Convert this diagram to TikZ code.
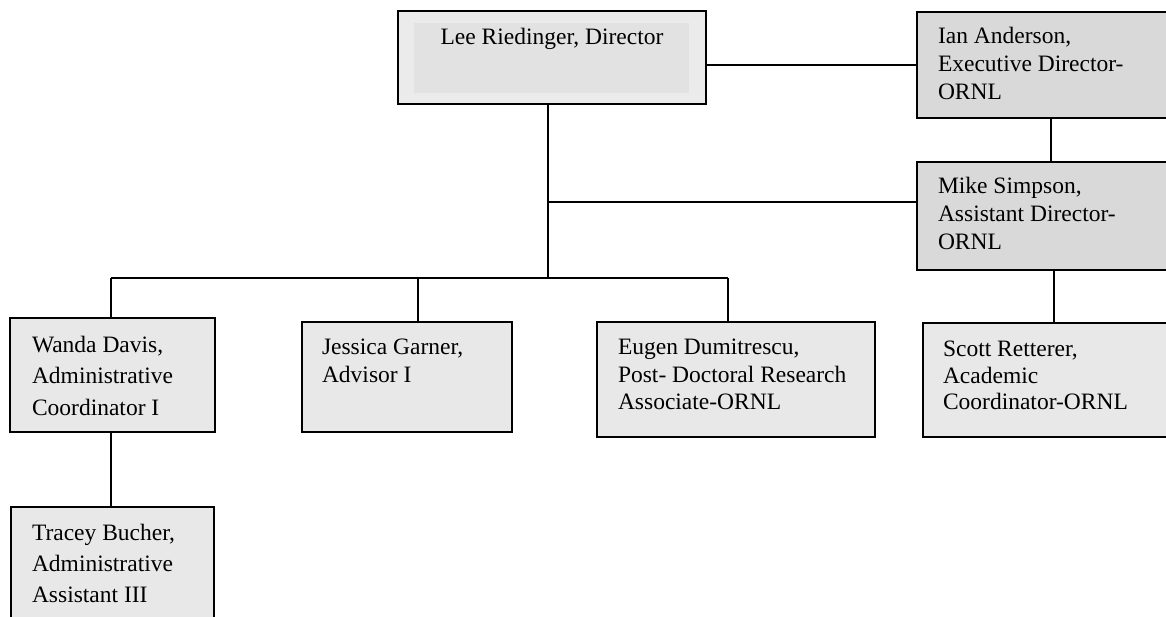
\documentclass[tikz,border=0pt]{standalone}
\usepackage{fontspec}
\setmainfont{Liberation Serif}
\definecolor{lightbox}{HTML}{E8E8E8}
\definecolor{darkbox}{HTML}{D9D9D9}
\definecolor{dirouter}{HTML}{EBEBEB}
\definecolor{dirinner}{HTML}{E2E2E2}
\begin{document}
\begin{tikzpicture}[x=1pt,y=-1pt,
  box/.style={draw=black, line width=1.5pt, fill=lightbox, rectangle, inner sep=0pt, outer sep=0pt, anchor=north west},
  darkbx/.style={box, fill=darkbox},
  label/.style={inner sep=0pt, outer sep=0pt, anchor=north west, align=left, font=\fontsize{23.5}{#1}\selectfont},
  link/.style={draw=black, line width=1.5pt}
]
\path[use as bounding box] (0,0) rectangle (1166,617);
\clip (0,0) rectangle (1166,617);

% boxes
\node[box, fill=dirouter, minimum width=308pt, minimum height=93pt] (dir) at (398,11) {};
\node[inner sep=0pt, outer sep=0pt, anchor=north west, fill=dirinner, minimum width=275pt, minimum height=70pt] (dirin) at (414,23) {};
\node[darkbx, minimum width=268pt, minimum height=106pt] (ian) at (917,12) {};
\node[darkbx, minimum width=268pt, minimum height=108pt] (mike) at (917,162) {};
\node[box, minimum width=205pt, minimum height=114pt] (wanda) at (10,318) {};
\node[box, minimum width=210pt, minimum height=110pt] (jess) at (302,322) {};
\node[box, minimum width=278pt, minimum height=115pt] (eugen) at (597,322) {};
\node[box, minimum width=262pt, minimum height=114pt] (scott) at (923,323) {};
\node[box, minimum width=203pt, minimum height=143pt] (tracey) at (11,507) {};

% texts
\node[inner sep=0pt, anchor=base, font=\fontsize{23.5}{28}\selectfont] (tdir) at (552,45) {Lee Riedinger, Director};
\node[label=28] (tian) at (938,27) {Ian Anderson,\\Executive Director-\\ORNL};
\node[label=28] (tmike) at (938,177) {Mike Simpson,\\Assistant Director-\\ORNL};
\node[label=31.5] (twanda) at (32,336) {Wanda Davis,\\Administrative\\Coordinator I};
\node[label=28] (tjess) at (322,339) {Jessica Garner,\\Advisor I};
\node[label=27.5] (teugen) at (618,339) {Eugen Dumitrescu,\\Post- Doctoral Research\\Associate-ORNL};
\node[label=26.5] (tscott) at (943,341) {Scott Retterer,\\Academic\\Coordinator-ORNL};
\node[label=31] (ttracey) at (32,524) {Tracey Bucher,\\Administrative\\Assistant III};

% junction coordinates
\coordinate (bus) at (548,278);
\coordinate (mj) at (548,202);
\coordinate (d1) at (111,278);
\coordinate (d2) at (418,278);
\coordinate (d3) at (728,278);

% connectors
\draw[link] (ian.west) -- (ian.west -| dir.east);
\draw[link] (ian.south) -- (ian.south |- mike.north);
\draw[link] (scott.north |- mike.south) -- (scott.north);
\draw[link] (bus |- dir.south) -- (bus);
\draw[link] (mj) -- (mj -| mike.west);
\draw[link] (d1) -- (d3);
\draw[link] (d1) -- (d1 |- wanda.north);
\draw[link] (d2) -- (d2 |- jess.north);
\draw[link] (d3) -- (d3 |- eugen.north);
\draw[link] (d1 |- wanda.south) -- (d1 |- tracey.north);
\end{tikzpicture}
\end{document}
